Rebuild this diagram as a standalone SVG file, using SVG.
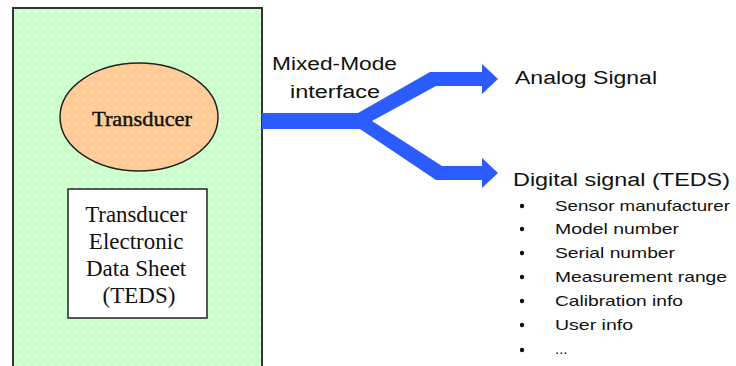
<svg xmlns="http://www.w3.org/2000/svg" width="736" height="366" viewBox="0 0 736 366">
<defs>
<pattern id="gdots" x="0" y="0" width="8" height="8" patternUnits="userSpaceOnUse">
<rect width="8" height="8" fill="#ccffcc"/>
<rect x="3" y="3" width="2" height="2" fill="#f0fff0"/>
</pattern>
<pattern id="odots" x="0" y="0" width="8" height="8" patternUnits="userSpaceOnUse">
<rect width="8" height="8" fill="#ffcc99"/>
<rect x="3" y="3" width="2" height="2" fill="#ffe08a"/>
</pattern>
<style>
.serif{font-family:"Liberation Serif","Times New Roman",serif;fill:#111}
.sans{font-family:"Liberation Sans",Arial,sans-serif;fill:#111}
.flow{fill:#2a5cff}
</style>
</defs>
<rect width="736" height="366" fill="#fff"/>
<g id="module">
<rect x="13" y="8" width="249" height="370" fill="url(#gdots)" stroke="#333" stroke-width="2"/>
</g>
<g id="transducer">
<ellipse cx="139" cy="117" rx="79" ry="54" fill="url(#odots)" stroke="#222" stroke-width="1.5"/>
<text class="serif" x="142" y="126" font-size="20" stroke="#111" stroke-width="0.4" text-anchor="middle" textLength="100" lengthAdjust="spacingAndGlyphs">Transducer</text>
</g>
<g id="teds">
<rect x="68" y="189" width="139" height="129" fill="#fff" stroke="#222" stroke-width="1.5"/>
<text class="serif" font-size="23" text-anchor="middle">
<tspan x="139" y="222" textLength="102" lengthAdjust="spacingAndGlyphs">Transducer</tspan>
<tspan x="139" y="249">Electronic</tspan>
<tspan x="139" y="276">Data Sheet</tspan>
<tspan x="139" y="303">(TEDS)</tspan>
</text>
</g>
<g id="connectors">
<path class="flow" d="M262,113 L358,113 L430,72 L482,72 L482,64 L498,79 L482,94 L482,86 L436,86 L372,121 L442,166 L482,166 L482,158 L498,173 L482,188 L482,180 L436,180 L360,129 L262,129 Z"/>
</g>
<g id="labels">
<text class="sans" x="272" y="70" font-size="18" textLength="125" lengthAdjust="spacingAndGlyphs">Mixed-Mode</text>
<text class="sans" x="290" y="98" font-size="18" textLength="90" lengthAdjust="spacingAndGlyphs">interface</text>
<text class="sans" x="515" y="84" font-size="18" textLength="142" lengthAdjust="spacingAndGlyphs">Analog Signal</text>
<text class="sans" x="513" y="186" font-size="18" textLength="217" lengthAdjust="spacingAndGlyphs">Digital signal (TEDS)</text>
</g>
<g id="list" class="sans" font-size="15">
<circle cx="522" cy="206" r="2.2" fill="#111"/><text class="sans" x="555" y="211" font-size="15" textLength="175" lengthAdjust="spacingAndGlyphs">Sensor manufacturer</text>
<circle cx="522" cy="229" r="2.2" fill="#111"/><text class="sans" x="555" y="234" font-size="15" textLength="124" lengthAdjust="spacingAndGlyphs">Model number</text>
<circle cx="522" cy="253" r="2.2" fill="#111"/><text class="sans" x="555" y="258" font-size="15" textLength="120" lengthAdjust="spacingAndGlyphs">Serial number</text>
<circle cx="522" cy="277" r="2.2" fill="#111"/><text class="sans" x="555" y="282" font-size="15" textLength="172" lengthAdjust="spacingAndGlyphs">Measurement range</text>
<circle cx="522" cy="301" r="2.2" fill="#111"/><text class="sans" x="555" y="306" font-size="15" textLength="128" lengthAdjust="spacingAndGlyphs">Calibration info</text>
<circle cx="522" cy="325" r="2.2" fill="#111"/><text class="sans" x="555" y="330" font-size="15" textLength="78" lengthAdjust="spacingAndGlyphs">User info</text>
<circle cx="522" cy="350" r="2.2" fill="#111"/><text class="sans" x="555" y="354" font-size="15">...</text>
</g>
</svg>
